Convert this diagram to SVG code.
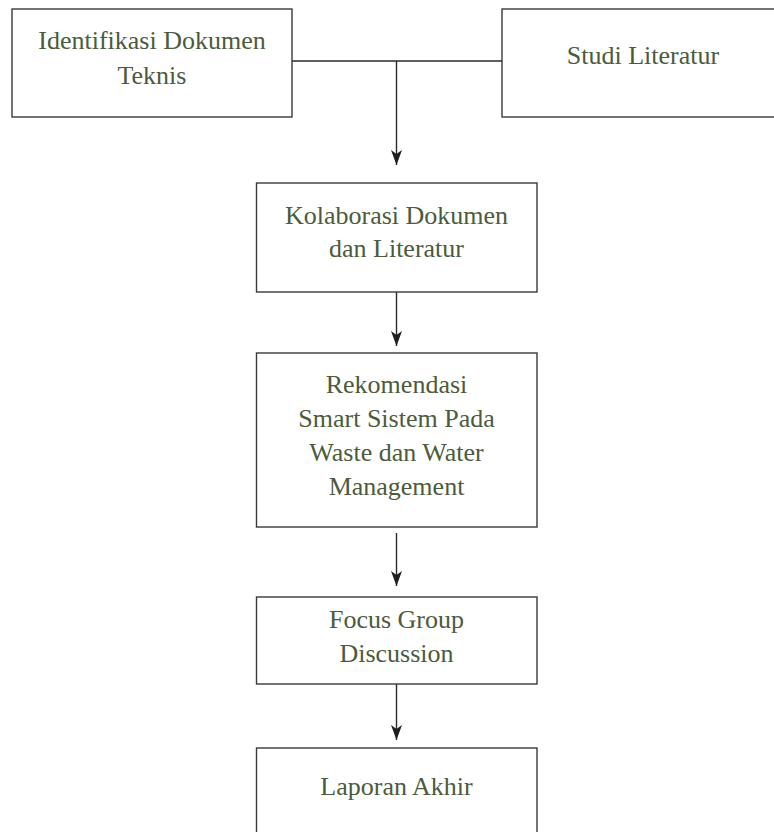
<svg xmlns="http://www.w3.org/2000/svg" width="774" height="832" viewBox="0 0 774 832">
  <style>
    .box { fill: #ffffff; stroke: #3a3a3a; stroke-width: 1.4; }
    .lbl { font-family: "Liberation Serif", "Times New Roman", serif; font-size: 26px; fill: #4b5b3b; text-anchor: middle; }
    .wire { fill: none; stroke: #2a2a2a; stroke-width: 1.4; }
  </style>
  <defs>
    <marker id="arrow" viewBox="0 0 15 11" refX="15" refY="5.5" markerWidth="15" markerHeight="11" markerUnits="userSpaceOnUse" orient="auto">
      <path d="M0,0 L15,5.5 L0,11 L4,5.5 Z" fill="#1e1e1e"/>
    </marker>
  </defs>
  <rect width="774" height="832" fill="#ffffff"/>

  <g id="connectors">
    <path class="wire" d="M292,61 H502"/>
    <path class="wire" d="M396.5,61 V165" marker-end="url(#arrow)"/>
    <path class="wire" d="M396.5,292 V346" marker-end="url(#arrow)"/>
    <path class="wire" d="M396.5,533 V586" marker-end="url(#arrow)"/>
    <path class="wire" d="M396.5,684 V740" marker-end="url(#arrow)"/>
  </g>

  <g id="identifikasi">
    <rect class="box" x="12" y="9" width="280" height="108"/>
    <text class="lbl" x="152" y="49">Identifikasi Dokumen</text>
    <text class="lbl" x="152" y="84">Teknis</text>
  </g>

  <g id="studi">
    <rect class="box" x="502" y="9" width="290" height="108"/>
    <text class="lbl" x="643" y="64">Studi Literatur</text>
  </g>

  <g id="kolaborasi">
    <rect class="box" x="256.5" y="183" width="280.5" height="109"/>
    <text class="lbl" x="396.5" y="224">Kolaborasi Dokumen</text>
    <text class="lbl" x="396.5" y="257">dan Literatur</text>
  </g>

  <g id="rekomendasi">
    <rect class="box" x="256.5" y="353" width="280.5" height="174"/>
    <text class="lbl" x="396.5" y="393">Rekomendasi</text>
    <text class="lbl" x="396.5" y="427">Smart Sistem Pada</text>
    <text class="lbl" x="396.5" y="461">Waste dan Water</text>
    <text class="lbl" x="396.5" y="495">Management</text>
  </g>

  <g id="fgd">
    <rect class="box" x="256.5" y="597" width="280.5" height="87"/>
    <text class="lbl" x="396.5" y="628">Focus Group</text>
    <text class="lbl" x="396.5" y="662">Discussion</text>
  </g>

  <g id="laporan">
    <rect class="box" x="256.5" y="748" width="280.5" height="100"/>
    <text class="lbl" x="396.5" y="795">Laporan Akhir</text>
  </g>
</svg>
